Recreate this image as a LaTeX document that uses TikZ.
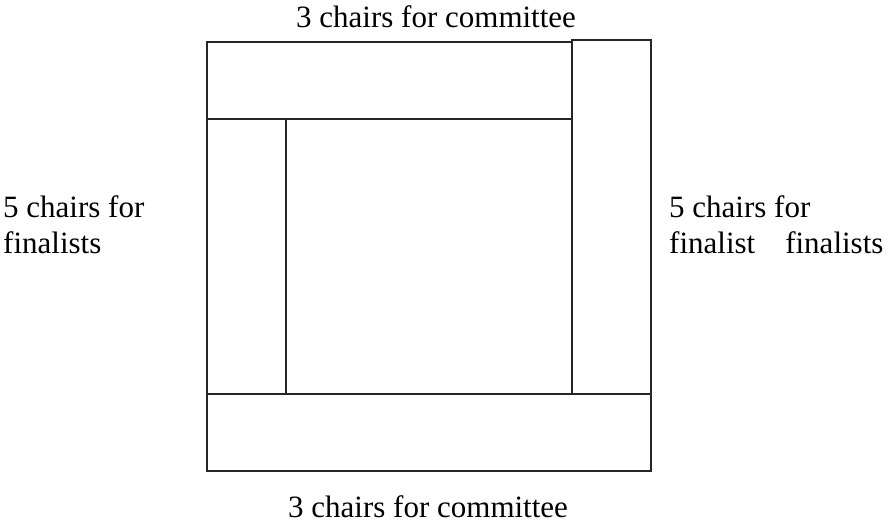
\documentclass[tikz,border=0pt]{standalone}
\usepackage{fontspec}
\setmainfont{Liberation Serif}
\begin{document}
\begin{tikzpicture}[x=1pt,y=-1pt,
  bar/.style={draw=black!85,line width=2pt},
  lbl/.style={inner sep=0pt,anchor=base west,font=\fontsize{31}{36}\selectfont\rmfamily}]
\useasboundingbox (0,0) rectangle (891,523);
% outer chairs/bars
\draw[bar] (207,42) rectangle (572,119);
\draw[bar] (572,40) rectangle (651,394);
\draw[bar] (207,394) rectangle (651,471);
\draw[bar] (207,119) rectangle (286,394);
% labels
\node[lbl] (top) at (296,27) {3 chairs for committee};
\node[lbl] (bot) at (288,517) {3 chairs for committee};
\node[lbl] (l1) at (3,217) {5 chairs for};
\node[lbl] (l2) at (3,253) {finalists};
\node[lbl] (r1) at (669,217) {5 chairs for};
\node[lbl] (r2) at (669,253) {finalist\hspace{30pt}finalists};
\end{tikzpicture}
\end{document}
